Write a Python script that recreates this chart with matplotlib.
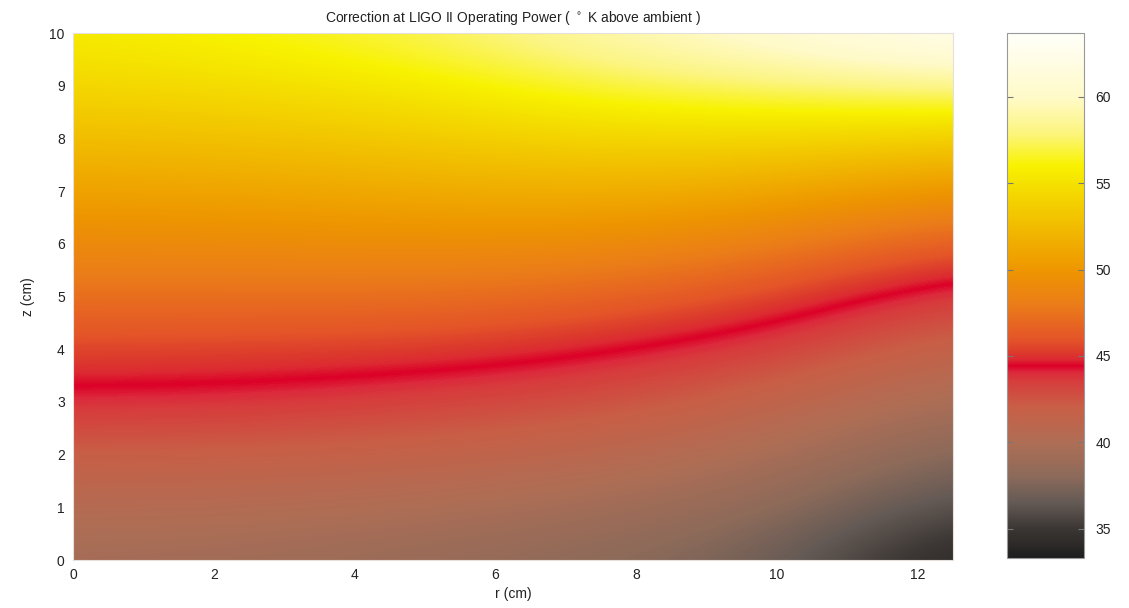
import numpy as np
import matplotlib
matplotlib.use("Agg")
import matplotlib.pyplot as plt
from matplotlib.colors import LinearSegmentedColormap, Normalize

plt.rcParams['font.family'] = ['Liberation Sans', 'DejaVu Sans']

# sample grid (cm)
r_pts = [0, 2.5, 5, 7.5, 10, 12.5]
z_pts = [0, 1, 2, 3, 4, 5, 6, 7, 8, 9, 10]

# temperature rise (K above ambient), one list per r column, bottom to top
T_r00 = [39.3, 40.4, 41.9, 44.0, 45.5, 47.3, 49.0, 50.8, 52.6, 54.3, 55.6]
T_r25 = [39.1, 40.3, 41.8, 43.9, 45.4, 47.3, 49.1, 51.0, 52.9, 54.8, 56.3]
T_r50 = [38.6, 39.9, 41.5, 43.3, 45.3, 47.3, 49.3, 51.4, 53.5, 55.6, 57.3]
T_r75 = [38.0, 39.3, 40.9, 42.7, 44.6, 46.8, 49.2, 51.7, 54.3, 57.0, 59.3]
T_r100 = [37.0, 38.2, 39.7, 41.4, 43.4, 45.6, 48.2, 51.1, 54.3, 57.8, 61.0]
T_r125 = [33.6, 35.8, 37.6, 39.4, 41.3, 43.3, 46.2, 49.8, 53.8, 58.3, 63.3]

cbar_ticks = [35, 40, 45, 50, 55, 60]
t_min, t_max = 33.3, 63.7

# colour anchors
anchor_vals = [33.3, 35.0, 36.5, 38.0, 40.0, 42.0, 43.6, 44.0, 44.4, 44.8, 45.2,
               46.0, 48.0, 50.0, 53.0, 55.0, 56.0, 58.0, 60.0, 63.7]
anchor_cols = ['#1e1e1e', '#3c3734', '#645a55', '#8c6a5a', '#af6e55', '#c85f46',
               '#d73c3c', '#dc2a3c', '#dc0028', '#dc2a32', '#dc3a2d',
               '#e45528', '#eb7d19', '#ee9600', '#f2c300', '#f5e100', '#f8f200',
               '#fcf582', '#fffac8', '#fffffa']

pos = [(v - t_min) / (t_max - t_min) for v in anchor_vals]
cmap = LinearSegmentedColormap.from_list('ligo', list(zip(pos, anchor_cols)), N=512)

T = np.array([T_r00, T_r25, T_r50, T_r75, T_r100, T_r125]).T

fig = plt.figure(figsize=(11.29, 6.08), dpi=100)
ax = fig.add_axes([0.0647, 0.0789, 0.7794, 0.8668])

dr = r_pts[1] - r_pts[0]
dz = z_pts[1] - z_pts[0]
im = ax.imshow(T, origin='lower', cmap=cmap, norm=Normalize(t_min, t_max),
               extent=[r_pts[0] - dr / 2, r_pts[-1] + dr / 2, z_pts[0] - dz / 2, z_pts[-1] + dz / 2],
               aspect='auto', interpolation='bicubic', interpolation_stage='data')
ax.set_xlim(0, 12.5)
ax.set_ylim(0, 10)
ax.set_xticks([0, 2, 4, 6, 8, 10, 12])
ax.set_yticks(range(0, 11))
ax.tick_params(length=0, labelsize=10, colors='#222222', pad=6)
for s in ax.spines.values():
    s.set_color('#e6e0dc')
    s.set_linewidth(0.8)
ax.set_xlabel('r (cm)', fontsize=10, color='#222222', labelpad=3)
ax.set_ylabel('z (cm)', fontsize=10, color='#222222', labelpad=10)
ax.set_title('Correction at LIGO II Operating Power ( $^\\circ$ K above ambient )',
             fontsize=10, color='#222222', pad=8)

cax = fig.add_axes([0.892, 0.0822, 0.0682, 0.8635])
cb = fig.colorbar(im, cax=cax)
cb.set_ticks(cbar_ticks)
cb.outline.set_edgecolor('#999999')
cb.outline.set_linewidth(0.8)
cax.tick_params(axis='y', direction='in', length=4, color='#777777', labelsize=10,
                labelcolor='#222222', left=True, right=True, pad=8)

fig.savefig('out.png', dpi=100)
